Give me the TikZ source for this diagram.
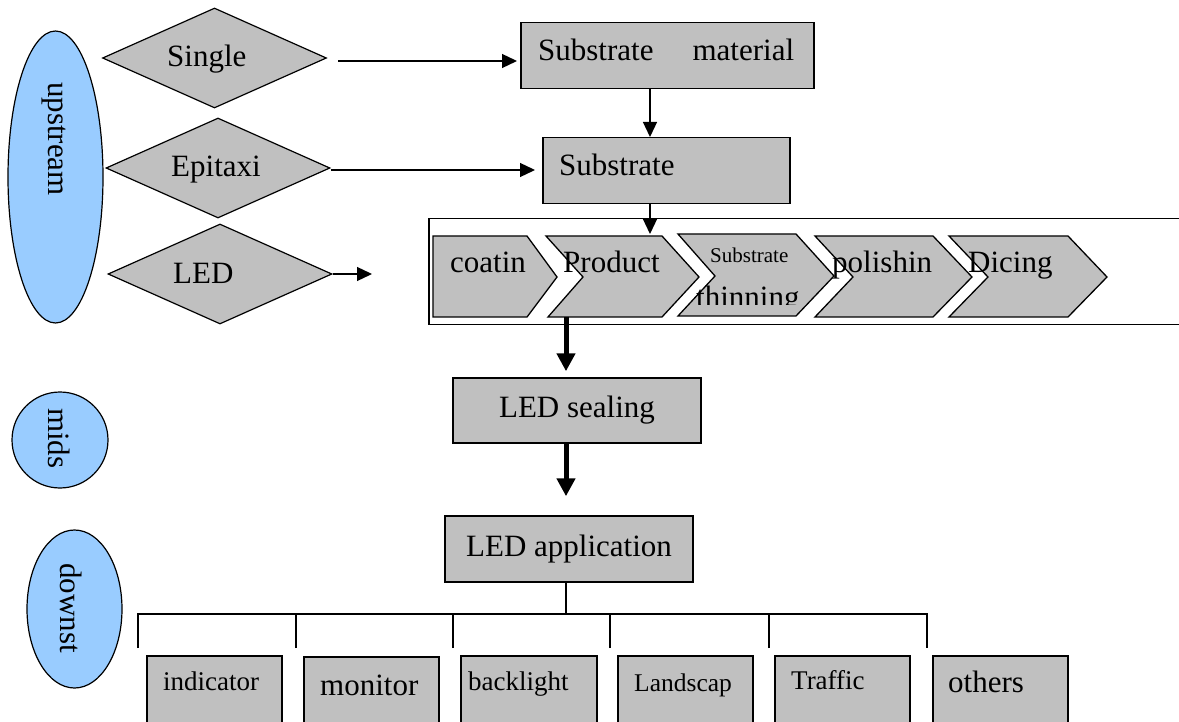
\documentclass[tikz,border=0pt]{standalone}
\usepackage{fontspec}
\setmainfont{Liberation Serif}
\usetikzlibrary{shapes.geometric,arrows.meta,calc}
\definecolor{boxgray}{HTML}{C0C0C0}
\definecolor{ovalblue}{HTML}{99CCFF}
\tikzset{
  box/.style={draw=black, fill=boxgray, line width=1.5pt, rectangle, inner sep=0pt, anchor=north west},
  choice/.style={draw=black, fill=boxgray, line width=1.2pt, diamond, inner sep=0pt,
                 minimum width=224pt, minimum height=100pt},
  stage/.style={draw=black, fill=ovalblue, line width=1.2pt, ellipse, inner sep=0pt},
  chev/.style={draw=black, fill=boxgray, line width=1.3pt, line join=miter},
  lbl/.style={inner sep=0pt, anchor=base west, font=\fontsize{31}{36}\selectfont},
  vlbl/.style={lbl, rotate=-90},
  arr/.style={line width=1.3pt, -{Triangle[length=15pt,width=14pt]}},
  bigarr/.style={line width=5pt, -{Triangle[length=18pt,width=18pt]}},
  wire/.style={line width=1.3pt},
}
\begin{document}
\begin{tikzpicture}[x=1pt,y=-1pt]
\useasboundingbox (0,0) rectangle (1179,722);
\clip (0,0) rectangle (1179,722);

% stage ovals
\node[stage, minimum width=95pt, minimum height=292pt] (up) at (55.5,177) {};
\node[stage, minimum width=96pt, minimum height=96pt] (mid) at (60,440) {};
\node[stage, minimum width=95pt, minimum height=158pt] (down) at (74.5,609) {};
\node[vlbl] (tUp) at (48,82) {upstream};
\node[vlbl] (tMid) at (48,408) {mids};
\node[vlbl] (tDown) at (60,563) {downst};

% upstream choices
\node[choice] (dSingle) at (214.5,58) {};
\node[choice] (dEpi) at (218,168) {};
\node[choice] (dLED) at (220,274) {};
\node[lbl] (tSingle) at (167,67) {Single};
\node[lbl] (tEpi) at (171,177) {Epitaxi};
\node[lbl] (tLED) at (173,284) {LED};

% substrate boxes
\node[box, minimum width=293pt, minimum height=66pt] (bSubMat) at (520,22) {};
\node[lbl] (tSubMat) at (538,61) {Substrate\hspace{39pt}material};
\node[box, minimum width=247pt, minimum height=66pt] (bSub) at (542,137) {};
\node[lbl] (tSub) at (559,176) {Substrate};

% process chain frame and chevrons
\node[draw=black, line width=1.5pt, rectangle, inner sep=0pt, anchor=north west,
      minimum width=770pt, minimum height=106pt] (frame) at (428,218) {};
\draw[chev] (433,236) -- (527,236) -- (557,277) -- (527,317) -- (433,317) -- cycle;
\draw[chev] (546,236) -- (662,236) -- (699,277) -- (662,317) -- (548,317) -- (583,277) -- cycle;
\draw[chev] (678,234) -- (796,234) -- (834,276) -- (796,316) -- (678,316) -- (715,276) -- cycle;
\draw[chev] (815,236) -- (933,236) -- (972,277) -- (933,317) -- (815,317) -- (853,277) -- cycle;
\draw[chev] (949,236) -- (1068,236) -- (1107,277) -- (1068,317) -- (949,317) -- (988,277) -- cycle;
\node[lbl] (tCoat) at (450,273) {coatin};
\node[lbl] (tProd) at (563,273) {Product};
\node[lbl, font=\fontsize{21}{24}\selectfont] (tThin1) at (710,263) {Substrate};
\begin{scope}
  \clip (650,240) rectangle (840,305);
  \node[lbl] (tThin2) at (696,308) {thinning};
\end{scope}
\node[lbl] (tPol) at (832,273) {polishin};
\node[lbl] (tDice) at (968,273) {Dicing};

% midstream and downstream boxes
\node[box, minimum width=248pt, minimum height=65pt, anchor=center,
      font=\fontsize{31}{36}\selectfont] (bSeal) at (577,410.5) {LED sealing};
\node[box, minimum width=248pt, minimum height=66pt, anchor=center,
      font=\fontsize{31}{36}\selectfont] (bApp) at (569,549) {LED application};

\node[box, minimum width=135pt, minimum height=70pt] (bInd) at (146,655) {};
\node[box, minimum width=135pt, minimum height=70pt] (bMon) at (303,656) {};
\node[box, minimum width=136pt, minimum height=70pt] (bBack) at (460,655) {};
\node[box, minimum width=135pt, minimum height=70pt] (bLand) at (617,655) {};
\node[box, minimum width=135pt, minimum height=70pt] (bTraf) at (774,655) {};
\node[box, minimum width=135pt, minimum height=70pt] (bOth) at (932,655) {};
\node[lbl, font=\fontsize{27}{30}\selectfont] (tInd) at (163,690) {indicator};
\node[lbl] (tMon) at (320,695) {monitor};
\node[lbl, font=\fontsize{27}{30}\selectfont] (tBack) at (468,690) {backlight};
\node[lbl, font=\fontsize{25.5}{29}\selectfont] (tLand) at (634,691) {Landscap};
\node[lbl, font=\fontsize{27}{30}\selectfont] (tTraf) at (791,689) {Traffic};
\node[lbl] (tOth) at (948,692) {others};

% connector anchors
\coordinate (colA) at (650,0);
\coordinate (chvTop) at (650,234);
\coordinate (ledEnd) at (372,274);
\coordinate (prodBot) at (566,317);
\coordinate (bus) at (566,614);
\foreach \i/\x in {1/138,2/296,3/453,4/610,5/769,6/927}
  \coordinate (tk\i) at (\x,648);

% connectors
\draw[arr, shorten <=11pt, shorten >=3pt] ([yshift=-3pt]dSingle.east) -- ([yshift=-3pt]dSingle.east -| bSubMat.west);
\draw[arr, shorten >=7pt] ([yshift=-2pt]dEpi.east) -- ([yshift=-2pt]dEpi.east -| bSub.west);
\draw[arr] (dLED.east) -- (ledEnd);
\draw[arr] (bSubMat.south -| colA) -- (bSub.north -| colA);
\draw[arr] (bSub.south -| colA) -- (chvTop);
\draw[bigarr, shorten >=6pt] (prodBot) -- (bSeal.north -| prodBot);
\draw[bigarr, shorten >=19pt] (bSeal.south -| prodBot) -- (bApp.north -| prodBot);
\draw[wire] (bApp.south -| bus) -- (bus);
\draw[wire] (tk1) -- (tk1 |- bus) -- (tk6 |- bus) -- (tk6);
\foreach \i in {2,...,5}
  \draw[wire] (tk\i) -- (tk\i |- bus);
\end{tikzpicture}
\end{document}
